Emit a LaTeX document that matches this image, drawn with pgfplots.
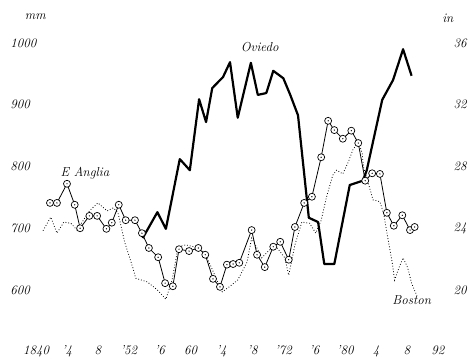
\documentclass[border=0pt]{standalone}
\usepackage{pgfplots}
\pgfplotsset{compat=1.18}
\pgfdeclareplotmark{odot}{%
  \pgfpathcircle{\pgfpointorigin}{\pgfplotmarksize}%
  \pgfsetfillcolor{white}\pgfusepathqfillstroke
  \pgfpathcircle{\pgfpointorigin}{0.7pt}%
  \pgfsetfillcolor{black}\pgfusepathqfill}
\pgfplotstableread{
year mm
1853.8 684
1855.7 726
1856.8 699
1858.6 812
1859.9 794
1861.1 909
1862.0 872
1862.8 927
1864.2 945
1865.1 969
1866.1 879
1867.8 968
1868.7 916
1869.8 919
1870.7 955
1872.0 943
1872.9 916
1873.9 883
1875.3 717
1876.5 710
1877.3 642
1878.6 642
1880.6 770
1882.3 777
1882.8 794
1884.8 908
1886.2 940
1887.5 990
1888.6 947
}\oviedo
\pgfplotstableread{
year mm
1841.8 741
1842.7 741
1844.0 772
1845.0 738
1845.7 700
1846.9 720
1847.9 720
1849.1 699
1849.8 709
1850.7 738
1851.6 713
1852.8 713
1853.7 692
1854.6 668
1855.8 653
1856.7 611
1857.7 606
1858.5 666
1859.8 663
1861.0 668
1861.9 657
1862.9 618
1863.8 605
1864.7 641
1865.5 642
1866.3 644
1867.9 697
1868.6 657
1869.6 637
1870.7 670
1871.6 678
1872.7 649
1873.5 702
1874.7 741
1875.7 751
1876.9 815
1877.8 874
1878.6 859
1879.7 845
1880.8 858
1881.7 838
1882.6 777
1883.5 789
1884.5 788
1885.4 725
1886.3 704
1887.4 721
1888.4 697
1889.0 702
}\anglia
\pgfplotstableread{
year mm
1840.9 696
1841.9 718
1842.7 692
1843.6 710
1844.5 708
1845.3 697
1846.9 728
1848.0 741
1849.2 728
1850.0 733
1850.6 725
1851.5 676
1852.5 637
1852.9 619
1854.4 613
1855.7 600
1856.8 585
1857.6 616
1858.4 670
1859.4 673
1860.4 670
1861.7 662
1862.6 639
1863.4 616
1864.1 597
1865.0 605
1866.1 616
1867.3 645
1867.9 684
1868.5 670
1869.2 652
1870.0 662
1870.9 673
1872.2 652
1872.7 624
1873.5 673
1874.4 710
1875.4 708
1876.2 692
1876.9 713
1877.6 751
1878.4 786
1878.9 794
1879.7 788
1880.4 807
1881.0 827
1881.7 840
1882.2 822
1882.4 798
1883.0 773
1883.6 746
1884.5 743
1885.0 723
1885.5 686
1886.1 644
1886.4 616
1887.0 637
1887.5 652
1888.1 636
1888.6 611
1889.3 590
}\boston
\begin{document}
\begin{tikzpicture}[font=\fontsize{13}{13}\selectfont\itshape]
\begin{axis}[
  scale only axis, width=469pt, height=360pt,
  xmin=1835.343, xmax=1896.02, ymin=486.6, ymax=1069.6,
  axis line style={draw=none}, major tick length=0pt,
  every tick label/.append style={font=\fontsize{13}{13}\selectfont\itshape},
  xtick={1840,1844,...,1892},
  xticklabels={1840,'4,8,'52,'6,60,'4,'8,'72,'6,'80,4,8,92},
  xticklabel style={anchor=base, yshift=5pt, inner sep=0pt},
  ytick={600,700,800,900,1000}, yticklabels={600,700,800,900,1000},
  yticklabel style={anchor=west, xshift=10pt, inner sep=0pt},
  clip=false,
]
\path (rel axis cs:0,0) rectangle (rel axis cs:1,1);
\addplot[black, line width=0.8pt, dash pattern=on 0.8pt off 2pt] table[x=year,y=mm] {\boston};
\addplot[black, line width=2.2pt, line join=round] table[x=year,y=mm] {\oviedo};
\addplot[black, line width=0.8pt, mark=odot, mark size=3.5pt, mark options={solid, line width=0.7pt}] table[x=year,y=mm] {\anglia};
\node at (rel axis cs:0.554,0.869) {Oviedo};
\node at (rel axis cs:0.181,0.519) {E Anglia};
\node at (rel axis cs:0.878,0.167) {Boston};
\node at (rel axis cs:0.075,0.953) {mm};
\end{axis}
\begin{axis}[
  scale only axis, width=469pt, height=360pt,
  xmin=1835.343, xmax=1896.02, ymin=15.464, ymax=38.784,
  axis line style={draw=none}, major tick length=0pt,
  every tick label/.append style={font=\fontsize{13}{13}\selectfont\itshape},
  xtick=\empty,
  ytick={20,24,...,36}, yticklabels={20,24,28,32,36},
  yticklabel pos=right,
  yticklabel style={anchor=east, xshift=-2pt, inner sep=0pt},
  clip=false,
]
\node at (rel axis cs:0.955,0.95) {in};
\end{axis}
\end{tikzpicture}
\end{document}
